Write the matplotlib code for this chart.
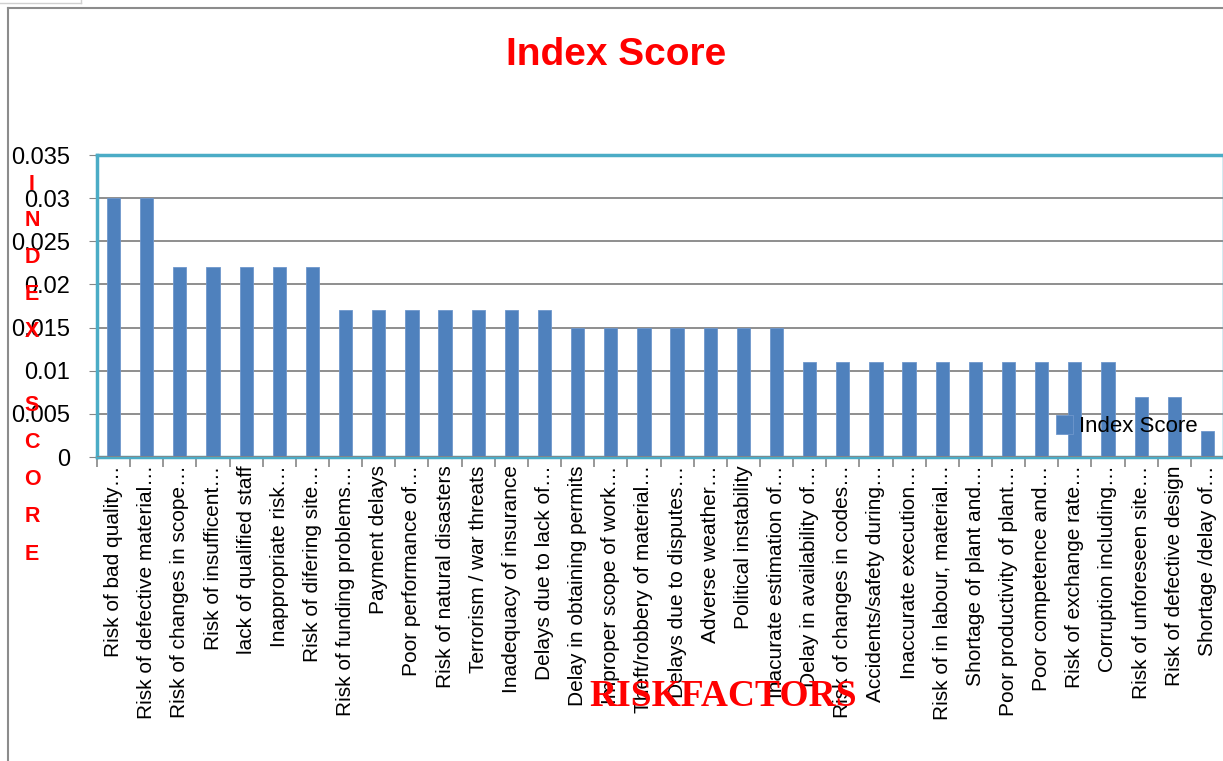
import matplotlib
matplotlib.use("Agg")
import matplotlib.pyplot as plt
from matplotlib.lines import Line2D
import numpy as np

categories = [
    "Risk of bad quality…", "Risk of defective material…", "Risk of changes in scope…",
    "Risk of insufficent…", "lack of qualified staff", "Inappropriate risk…",
    "Risk of difering site…", "Risk of funding problems…", "Payment delays",
    "Poor performance of…", "Risk of natural disasters", "Terrorism / war threats",
    "Inadequacy of insurance", "Delays due to lack of…", "Delay in obtaining permits",
    "Improper scope of work…", "Theft/robbery of material…", "Delays due to disputes…",
    "Adverse weather…", "Political instability", "Inacurate estimation of…",
    "Delay in availability of…", "Risk of changes in codes…", "Accidents/safety during…",
    "Inaccurate execution…", "Risk of in labour, material…", "Shortage of plant and…",
    "Poor productivity of plant…", "Poor competence and…", "Risk of exchange rate…",
    "Corruption including…", "Risk of unforeseen site…", "Risk of defective design",
    "Shortage /delay of…",
]
index_score = [
    0.030, 0.030, 0.022, 0.022, 0.022, 0.022, 0.022,
    0.017, 0.017, 0.017, 0.017, 0.017, 0.017, 0.017,
    0.015, 0.015, 0.015, 0.015, 0.015, 0.015, 0.015,
    0.011, 0.011, 0.011, 0.011, 0.011, 0.011, 0.011, 0.011, 0.011, 0.011,
    0.007, 0.007, 0.003,
]
y_ticks = [0, 0.005, 0.01, 0.015, 0.02, 0.025, 0.03, 0.035]
y_tick_labels = ["0", "0.005", "0.01", "0.015", "0.02", "0.025", "0.03", "0.035"]

W, H = 1223, 761
SANS = ["Liberation Sans Narrow", "Liberation Sans", "DejaVu Sans"]

fig = plt.figure(figsize=(W / 100, H / 100), dpi=100)
fig.patch.set_facecolor("white")

def fx(px):
    return px / W

def fy(py):
    return 1 - py / H

ax = fig.add_axes([fx(97), fy(457), fx(1224) - fx(97), fy(155) - fy(457)])
x = np.arange(len(categories))
ax.bar(x, index_score, width=0.4, color="#4F81BD", edgecolor="#6F97CC",
       linewidth=0.6, label="Index Score", zorder=3)
ax.set_xlim(-0.5, len(categories) - 0.5)
ax.set_ylim(0, 0.035)

ax.set_yticks(y_ticks)
ax.set_yticklabels(y_tick_labels, fontsize=17, family=SANS)
ax.tick_params(axis="y", direction="out", length=6, color="#868686", pad=13.5)
ax.yaxis.grid(True, color="#868686", linewidth=1.3, zorder=0)
ax.set_axisbelow(True)

ax.set_xticks(x)
ax.set_xticklabels(categories, rotation=90, fontsize=15, family=SANS, va="top", ha="center")
ax.tick_params(axis="x", which="major", length=0, pad=6)
ax.set_xticks(np.arange(-0.5, len(categories), 1.0), minor=True)
ax.tick_params(axis="x", which="minor", direction="out", length=7, color="#868686", width=1.2)

for s in ax.spines.values():
    s.set_color("#4BACC6")
    s.set_linewidth(2.5)
ax.axhline(0, color="#868686", linewidth=1.3, zorder=4)

# Title
fig.text(fx(616), fy(55), "Index Score", color="red", fontsize=28, fontweight="bold",
         family=SANS, ha="center", va="center")

# Vertical stacked y label
fig.text(fx(32), fy(369), "I\nN\nD\nE\nX\n\nS\nC\nO\nR\nE", color="red", fontsize=15.5,
         fontweight="bold", family=["Liberation Sans", "DejaVu Sans"], ha="center",
         va="center", linespacing=2.0, zorder=10)

# X axis title
fig.text(fx(723), fy(697), "RISKFACTORS", color="red", fontsize=27, fontweight="bold",
         family=["Liberation Serif", "DejaVu Serif"], ha="center", va="center", zorder=10)

# Legend
leg = ax.legend(loc="center left", bbox_to_anchor=(fx(1056), fy(426)),
                bbox_transform=fig.transFigure, frameon=False,
                handlelength=0.75, handleheight=0.9, handletextpad=0.3,
                borderpad=0, borderaxespad=0, prop={"family": SANS, "size": 16})

# Outer chart border
fig.add_artist(Line2D([fx(8), fx(8)], [fy(8), 0], color="#8C8C8C", linewidth=1.5))
fig.add_artist(Line2D([fx(8), 1], [fy(8), fy(8)], color="#8C8C8C", linewidth=1.5))
fig.add_artist(Line2D([0, fx(81)], [fy(3), fy(3)], color="#D0D0D0", linewidth=1))
fig.add_artist(Line2D([fx(81), fx(81)], [fy(3), 1], color="#D0D0D0", linewidth=1))

fig.savefig("out.png", dpi=100, facecolor="white")
